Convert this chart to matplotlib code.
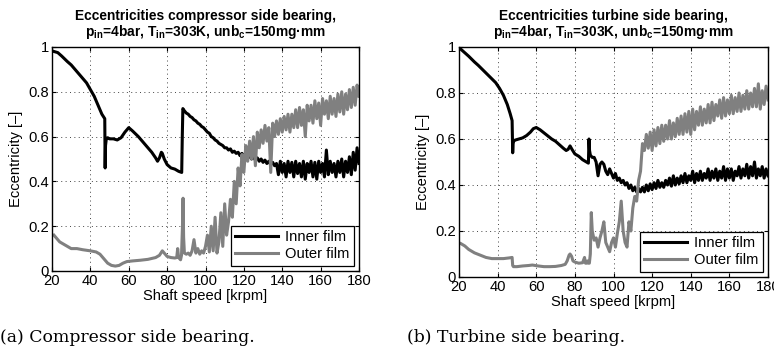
import matplotlib
matplotlib.use("Agg")
import matplotlib.pyplot as plt

plt.rcParams['font.family'] = ['Liberation Sans', 'DejaVu Sans']
plt.rcParams['mathtext.fontset'] = 'custom'
plt.rcParams['mathtext.rm'] = 'Liberation Sans'
plt.rcParams['mathtext.bf'] = 'Liberation Sans:bold'
plt.rcParams['mathtext.it'] = 'Liberation Sans:italic'

# ---------------- shared high-speed sampling grid [krpm] ----------------
speed_hi = [89, 90, 91, 92, 93, 94, 95, 96, 97, 98, 99,
            100, 101, 102, 103, 104, 105, 106, 107, 108, 109,
            110, 111, 112, 113, 114, 115, 116, 117, 118, 119,
            120, 121, 122, 123, 124, 125, 126, 127, 128, 129,
            130, 131, 132, 133, 134, 135, 136, 137, 138, 139,
            140, 141, 142, 143, 144, 145, 146, 147, 148, 149,
            150, 151, 152, 153, 154, 155, 156, 157, 158, 159,
            160, 161, 162, 163, 164, 165, 166, 167, 168, 169,
            170, 171, 172, 173, 174, 175, 176, 177, 178, 179, 180]

# ---------------- compressor side bearing ----------------
comp_inner_lo_x = [21, 23, 25, 28, 30, 33, 35, 38, 40, 42, 44, 46, 47.5, 47.7, 47.9,
                   48.3, 49, 50, 52, 54, 56, 58, 60, 62, 65, 68, 70, 72, 74, 75, 76,
                   77, 77.5, 78.5, 80, 82, 84, 86, 87.6, 87.9, 88.2]
comp_inner_lo_y = [0.98, 0.975, 0.96, 0.935, 0.92, 0.89, 0.87, 0.84, 0.81, 0.78, 0.74,
                   0.70, 0.68, 0.46, 0.56, 0.59, 0.595, 0.59, 0.59, 0.585, 0.595, 0.62,
                   0.64, 0.625, 0.60, 0.57, 0.55, 0.53, 0.505, 0.49, 0.505, 0.53, 0.525,
                   0.50, 0.475, 0.46, 0.455, 0.445, 0.44, 0.60, 0.725]
comp_inner_hi_y = [0.715, 0.705, 0.70, 0.69, 0.685, 0.675, 0.67, 0.66, 0.655, 0.645, 0.64,
                   0.63, 0.62, 0.615, 0.60, 0.595, 0.585, 0.58, 0.57, 0.565, 0.56,
                   0.55, 0.55, 0.54, 0.545, 0.53, 0.535, 0.525, 0.53, 0.515, 0.525,
                   0.51, 0.52, 0.505, 0.515, 0.50, 0.51, 0.495, 0.505, 0.49, 0.50,
                   0.485, 0.495, 0.48, 0.49, 0.475, 0.485, 0.47, 0.48, 0.43, 0.49,
                   0.44, 0.48, 0.42, 0.49, 0.44, 0.485, 0.42, 0.49, 0.435, 0.48,
                   0.42, 0.49, 0.41, 0.48, 0.44, 0.49, 0.42, 0.485, 0.41, 0.49,
                   0.44, 0.48, 0.42, 0.54, 0.43, 0.49, 0.44, 0.48, 0.42, 0.49,
                   0.44, 0.50, 0.42, 0.49, 0.44, 0.51, 0.43, 0.53, 0.45, 0.55, 0.48]

comp_outer_lo_x = [21, 22, 24, 26, 28, 30, 33, 36, 40, 43, 45, 47, 49, 51, 53, 55, 57,
                   59, 62, 66, 70, 74, 76, 77.5, 78.5, 80, 82, 84, 85, 85.5, 86, 87,
                   87.5, 88, 88.3, 88.6]
comp_outer_lo_y = [0.16, 0.15, 0.13, 0.12, 0.11, 0.10, 0.10, 0.095, 0.09, 0.085, 0.075,
                   0.055, 0.035, 0.025, 0.022, 0.025, 0.035, 0.042, 0.045, 0.048, 0.052,
                   0.06, 0.07, 0.09, 0.08, 0.065, 0.06, 0.058, 0.06, 0.10, 0.06, 0.05,
                   0.07, 0.20, 0.325, 0.15]
comp_outer_hi_y = [0.08, 0.075, 0.08, 0.07, 0.09, 0.14, 0.08, 0.10, 0.075, 0.09, 0.08,
                   0.11, 0.16, 0.085, 0.20, 0.09, 0.24, 0.08, 0.13, 0.26, 0.11,
                   0.30, 0.16, 0.22, 0.32, 0.24, 0.40, 0.30, 0.46, 0.38, 0.52,
                   0.44, 0.56, 0.49, 0.58, 0.50, 0.60, 0.47, 0.62, 0.55, 0.63,
                   0.57, 0.65, 0.58, 0.64, 0.44, 0.66, 0.60, 0.67, 0.61, 0.68,
                   0.62, 0.69, 0.63, 0.70, 0.62, 0.70, 0.64, 0.72, 0.64, 0.73,
                   0.65, 0.72, 0.60, 0.74, 0.67, 0.74, 0.66, 0.76, 0.68, 0.75,
                   0.65, 0.77, 0.70, 0.76, 0.68, 0.78, 0.70, 0.77, 0.69, 0.79,
                   0.71, 0.80, 0.70, 0.79, 0.72, 0.81, 0.73, 0.82, 0.74, 0.83, 0.78]

# ---------------- turbine side bearing ----------------
turb_inner_lo_x = [21, 23, 25, 28, 30, 33, 36, 39, 41, 43, 45, 46.5, 47.5, 47.8, 48.0,
                   48.3, 49, 51, 53, 55, 57, 58.5, 60, 62, 65, 68, 70, 72, 74, 75.5,
                   76.5, 77.5, 78.5, 80, 82, 84, 86, 87, 87.3, 87.6, 88, 89, 90, 91,
                   92, 93, 94]
turb_inner_lo_y = [0.99, 0.975, 0.96, 0.935, 0.92, 0.895, 0.87, 0.845, 0.82, 0.79, 0.75,
                   0.71, 0.68, 0.54, 0.58, 0.59, 0.595, 0.60, 0.605, 0.615, 0.63, 0.645,
                   0.65, 0.64, 0.62, 0.60, 0.59, 0.575, 0.56, 0.55, 0.555, 0.57, 0.555,
                   0.535, 0.525, 0.51, 0.50, 0.495, 0.60, 0.55, 0.53, 0.52, 0.52, 0.50,
                   0.44, 0.49, 0.50]
turb_inner_hi_y = [0.49, 0.46, 0.445, 0.47,
                   0.45, 0.43, 0.45, 0.42, 0.43, 0.41, 0.42, 0.40, 0.41, 0.385, 0.40,
                   0.375, 0.39, 0.37, 0.385, 0.37, 0.39, 0.37, 0.40, 0.375, 0.405,
                   0.38, 0.41, 0.385, 0.42, 0.39, 0.41, 0.39, 0.42, 0.40, 0.43,
                   0.395, 0.44, 0.40, 0.43, 0.405, 0.44, 0.41, 0.45, 0.41, 0.44,
                   0.42, 0.46, 0.41, 0.45, 0.42, 0.46, 0.42, 0.45, 0.43, 0.47,
                   0.42, 0.46, 0.43, 0.47, 0.42, 0.46, 0.43, 0.48, 0.42, 0.47,
                   0.43, 0.47, 0.42, 0.46, 0.44, 0.48, 0.43, 0.47, 0.44, 0.49,
                   0.43, 0.48, 0.44, 0.50, 0.43, 0.47, 0.44, 0.48, 0.43, 0.47, 0.44]

turb_outer_lo_x = [21, 23, 25, 28, 31, 34, 37, 40, 43, 46, 47.5, 47.8, 48.2, 50, 53, 56,
                   58, 61, 64, 67, 70, 73, 75, 76, 77, 77.5, 78.3, 79, 80, 82, 84, 85,
                   85.5, 86, 86.5, 87, 87.5, 88, 88.5]
turb_outer_lo_y = [0.145, 0.135, 0.12, 0.105, 0.095, 0.085, 0.08, 0.08, 0.08, 0.083,
                   0.085, 0.05, 0.045, 0.045, 0.048, 0.05, 0.052, 0.048, 0.045, 0.045,
                   0.046, 0.05, 0.055, 0.07, 0.095, 0.10, 0.09, 0.07, 0.065, 0.06,
                   0.062, 0.085, 0.06, 0.06, 0.07, 0.06, 0.06, 0.10, 0.28]
turb_outer_hi_y = [0.20, 0.16, 0.17, 0.13, 0.17, 0.20, 0.24, 0.15, 0.13, 0.11, 0.15,
                   0.17, 0.13, 0.19, 0.24, 0.33, 0.20, 0.15, 0.13, 0.24, 0.20,
                   0.30, 0.35, 0.33, 0.42, 0.46, 0.58, 0.55, 0.62, 0.56, 0.63,
                   0.55, 0.64, 0.57, 0.65, 0.58, 0.66, 0.59, 0.66, 0.60, 0.68,
                   0.60, 0.67, 0.61, 0.69, 0.62, 0.70, 0.62, 0.71, 0.63, 0.72,
                   0.62, 0.73, 0.64, 0.72, 0.66, 0.74, 0.66, 0.73, 0.67, 0.75,
                   0.67, 0.76, 0.68, 0.75, 0.70, 0.77, 0.69, 0.78, 0.70, 0.77,
                   0.71, 0.79, 0.71, 0.78, 0.72, 0.80, 0.72, 0.79, 0.73, 0.81,
                   0.73, 0.80, 0.74, 0.82, 0.74, 0.84, 0.73, 0.81, 0.75, 0.83, 0.77]

x_ticks = [20, 40, 60, 80, 100, 120, 140, 160, 180]
y_ticks = [0, 0.2, 0.4, 0.6, 0.8, 1]
y_tick_labels = ['0', '0.2', '0.4', '0.6', '0.8', '1']

titles = [
    'Eccentricities compressor side bearing,\n'
    r'$\mathbf{p_{in}}$=4bar, $\mathbf{T_{in}}$=303K, $\mathbf{unb_{c}}$=150mg·mm',
    'Eccentricities turbine side bearing,\n'
    r'$\mathbf{p_{in}}$=4bar, $\mathbf{T_{in}}$=303K, $\mathbf{unb_{c}}$=150mg·mm',
]
captions = ['(a) Compressor side bearing.', '(b) Turbine side bearing.']

W, H = 774, 349
fig = plt.figure(figsize=(W / 100, H / 100), dpi=100)

# axes boxes in pixels: left, top, right, bottom
boxes = [(52, 47, 359, 271), (459, 47, 768, 277)]

panels = [
    (comp_inner_lo_x, comp_inner_lo_y, comp_inner_hi_y,
     comp_outer_lo_x, comp_outer_lo_y, comp_outer_hi_y, 0),
    (turb_inner_lo_x, turb_inner_lo_y, turb_inner_hi_y,
     turb_outer_lo_x, turb_outer_lo_y, turb_outer_hi_y, 6),
]

axes = []
for (l, t, r, b), title, panel in zip(boxes, titles, panels):
    ix, iy, iy_hi, ox, oy, oy_hi, start = panel
    ax = fig.add_axes([l / W, 1 - b / H, (r - l) / W, (b - t) / H])
    inner_x = ix + speed_hi[start:]
    inner_y = iy + iy_hi
    outer_x = ox + speed_hi
    outer_y = oy + oy_hi
    ax.plot(inner_x, inner_y, color='black', lw=2.2, label='Inner film',
            solid_joinstyle='round')
    ax.plot(outer_x, outer_y, color='#808080', lw=2.2, label='Outer film',
            solid_joinstyle='round')
    ax.set_xlim(20, 180)
    ax.set_ylim(0, 1)
    ax.set_xticks(x_ticks)
    ax.set_yticks(y_ticks)
    ax.set_yticklabels(y_tick_labels)
    ax.tick_params(direction='in', length=3, width=0.8, top=True, right=True,
                   labelsize=10.6, pad=2)
    ax.grid(True, color='#444444', lw=0.7, dashes=(1, 3.5))
    for sp in ax.spines.values():
        sp.set_linewidth(1.0)
    ax.set_xlabel('Shaft speed [krpm]', fontsize=10.6, labelpad=1)
    ax.set_ylabel('Eccentricity [–]', fontsize=10.6, labelpad=4)
    ax.set_title(title, fontsize=9.9, fontweight='bold', pad=8, linespacing=1.0)
    leg = ax.legend(loc='lower right', fontsize=10.6, frameon=True, fancybox=False,
                    edgecolor='black', framealpha=1, borderaxespad=0.35,
                    handlelength=2.9, labelspacing=0.2, borderpad=0.3,
                    handletextpad=0.5)
    leg.get_frame().set_linewidth(0.9)
    axes.append(ax)

fig.text(0 / W, 1 - 338 / H, captions[0], fontsize=12.4, family='DejaVu Serif',
         ha='left', va='center')
fig.text(407 / W, 1 - 338 / H, captions[1], fontsize=12.4, family='DejaVu Serif',
         ha='left', va='center')

fig.savefig('out.png', dpi=100)
